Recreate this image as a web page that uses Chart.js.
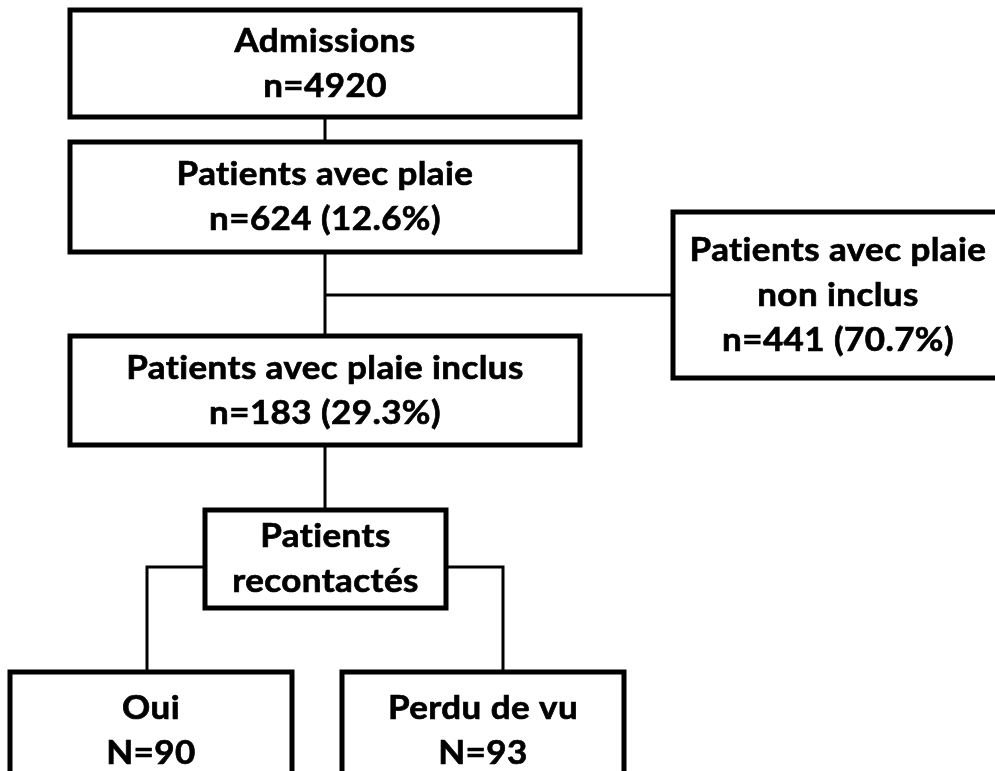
<!DOCTYPE html>
<html>
<head>
<meta charset="utf-8">
<script src="https://cdn.jsdelivr.net/npm/chart.js@4.4.0/dist/chart.umd.min.js"></script>
<style>
html, body { margin: 0; padding: 0; background: #fff; }
</style>
</head>
<body>
<canvas id="myChart" width="995" height="771"></canvas>
<script>
// effectifs du diagramme de flux
var counts = [4920, 624, 441, 183, 0, 90, 93];
var percents = [null, 12.6, 70.7, 29.3, null, null, null];
var boxTitles = [
    ["Admissions"],
    ["Patients avec plaie"],
    ["Patients avec plaie", "non inclus"],
    ["Patients avec plaie inclus"],
    ["Patients", "recontactés"],
    ["Oui"],
    ["Perdu de vu"]
];
var countPrefix = ["n", "n", "n", "n", "", "N", "N"];

// cases (coordonnees en pixels de la page)
var boxLeft   = [70, 70, 673, 70, 205, 10, 342];
var boxRight  = [580, 580, 1003, 580, 446, 292, 624];
var boxTop    = [10, 142, 212, 336, 510, 672, 672];
var boxBottom = [117, 252, 378, 445, 608, 790, 790];

// traits de liaison
var links = [
    [[325, 117], [325, 142]],
    [[325, 252], [325, 336]],
    [[325, 295], [673, 295]],
    [[325, 445], [325, 510]],
    [[205, 567], [147, 567], [147, 672]],
    [[446, 567], [503, 567], [503, 672]]
];

function boxLines(i) {
    var lines = boxTitles[i].slice();
    if (countPrefix[i] !== "") {
        var t = countPrefix[i] + "=" + counts[i];
        if (percents[i] !== null) t += " (" + percents[i].toFixed(1) + "%)";
        lines.push(t);
    }
    return lines;
}

var datasets = [];
links.forEach(function (pts) {
    datasets.push({
        data: pts.map(function (p) { return { x: p[0], y: p[1] }; }),
        borderColor: "#000",
        borderWidth: 3,
        borderCapStyle: "butt",
        borderJoinStyle: "miter",
        showLine: true,
        pointRadius: 0,
        clip: false
    });
});
boxLeft.forEach(function (l, i) {
    var r = boxRight[i], t = boxTop[i], b = boxBottom[i];
    datasets.push({
        data: [{ x: l, y: t }, { x: r, y: t }, { x: r, y: b }, { x: l, y: b }, { x: l, y: t }],
        borderColor: "#000",
        borderWidth: 5,
        borderCapStyle: "square",
        borderJoinStyle: "miter",
        backgroundColor: "#fff",
        fill: true,
        showLine: true,
        pointRadius: 0,
        clip: false
    });
});

var boxText = {
    id: "boxText",
    afterDatasetsDraw: function (chart) {
        var ctx = chart.ctx;
        var xs = chart.scales.x, ys = chart.scales.y;
        ctx.save();
        ctx.fillStyle = "#000";
        ctx.strokeStyle = "#000";
        ctx.lineWidth = 0.7;
        ctx.font = "bold 33px Lato";
        ctx.letterSpacing = "0.4px";   // pas de ligature "ti"
        ctx.textAlign = "center";
        ctx.textBaseline = "middle";
        var lh = 45;
        boxLeft.forEach(function (l, i) {
            var cx = xs.getPixelForValue((l + boxRight[i]) / 2);
            var cy = ys.getPixelForValue((boxTop[i] + boxBottom[i]) / 2);
            var lines = boxLines(i);
            var y0 = cy - (lines.length - 1) * lh / 2;
            lines.forEach(function (s, k) {
                ctx.save();
                ctx.translate(cx, y0 + k * lh);
                ctx.scale(1.06, 1);   // Calibri est plus large que Lato
                ctx.fillText(s, 0, 0);
                ctx.strokeText(s, 0, 0);
                ctx.restore();
            });
        });
        ctx.restore();
    }
};

new Chart("myChart", {
    type: "scatter",
    data: { datasets: datasets },
    options: {
        responsive: false,
        animation: false,
        devicePixelRatio: 1,
        layout: { padding: 0 },
        scales: {
            x: { type: "linear", min: 0, max: 995, display: false },
            y: { type: "linear", min: 0, max: 771, reverse: true, display: false }
        },
        plugins: {
            legend: { display: false },
            tooltip: { enabled: false }
        }
    },
    plugins: [boxText]
});
</script>
</body>
</html>
